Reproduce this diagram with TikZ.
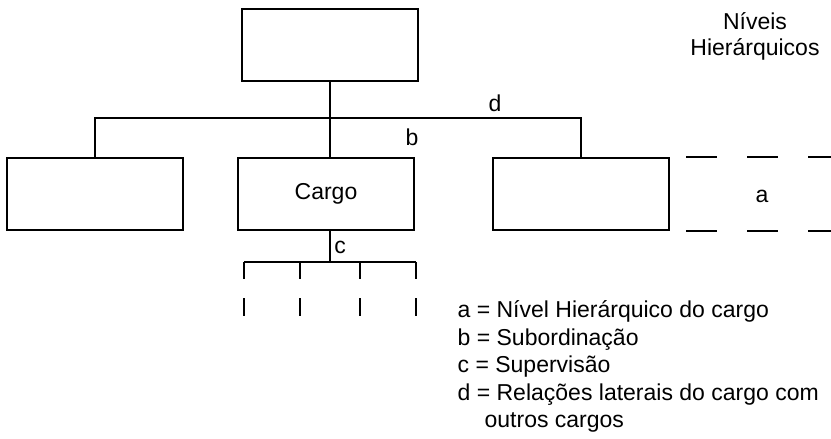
\documentclass[tikz,border=0pt]{standalone}
\usepackage{fontspec}
\setmainfont{Liberation Sans}
\begin{document}
\begin{tikzpicture}[x=1pt,y=-1pt,line cap=butt,line join=miter,line width=1.3pt,
  box/.style={draw,minimum width=176pt,minimum height=72pt,inner sep=0pt},
  lbl/.style={inner sep=0pt},
  font=\fontsize{23}{28}\selectfont]
\useasboundingbox (0,0) rectangle (831,439);
% cargos
\node[box] (topo) at (330,45) {};
\node[box] (esq) at (95,194) {};
\node[box] (cargo) at (326,194) {Cargo};
\node[box] (dir) at (581,194) {};
% ligacoes entre os niveis
\coordinate (eixo) at (330,118);
\draw (topo.south) -- (topo.south |- cargo.north);
\draw (esq.north) -- (esq.north |- eixo) -- (dir.north |- eixo) -- (dir.north);
% subordinados do cargo
\coordinate (sub) at (330,262);
\draw (sub |- cargo.south) -- (sub);
\draw (244,262) -- (416,262);
\foreach \x in {244,300,360,416} {
  \draw (\x,262) -- (\x,279);
  \draw (\x,298) -- (\x,316);
}
% faixa do nivel hierarquico
\draw[dash pattern=on 31pt off 30pt] (686,157) -- (831,157);
\draw[dash pattern=on 31pt off 30pt] (686,231) -- (831,231);
\node[lbl] (la) at (762,196) {a};
\node[lbl] (lb) at (412,137) {b};
\node[lbl] (lc) at (340,247) {c};
\node[lbl] (ld) at (495,103) {d};
\node[lbl,anchor=base] (niveis) at (755,30) {Níveis};
\node[lbl,anchor=base] (hierarq) at (755,56) {Hierárquicos};
% legenda
\foreach \y/\t in {317/a = Nível Hierárquico do cargo, 345/b = Subordinação,
                   372/c = Supervisão, 400/d = Relações laterais do cargo com}
  \node[lbl,anchor=base west] at (457,\y) {\t};
\node[lbl,anchor=base west] (outros) at (484,427) {outros cargos};
\end{tikzpicture}
\end{document}
